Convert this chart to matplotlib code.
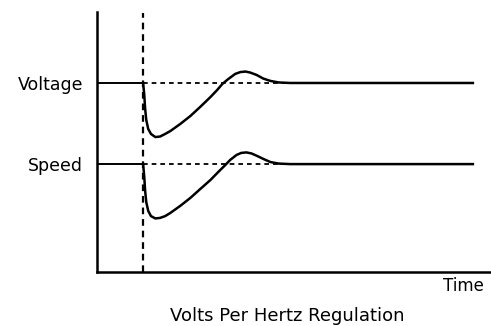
import matplotlib

matplotlib.use("Agg")
import matplotlib.pyplot as plt

# Time axis in arbitrary units; step disturbance applied at t_step
t_step = 1.17
t_end = 9.54

voltage_level = 7.27
speed_level = 4.15

voltage_t = [1.17, 1.20, 1.22, 1.25, 1.30, 1.37, 1.48, 1.60, 1.73, 1.86, 2.11, 2.37,
             2.62, 2.88, 3.05, 3.18, 3.33, 3.51, 3.64, 3.77, 3.89, 4.05, 4.22, 4.40,
             4.61, 4.91, 9.54]
voltage_y = [7.27, 6.81, 6.31, 5.85, 5.50, 5.31, 5.19, 5.21, 5.31, 5.42, 5.69, 6.00,
             6.35, 6.73, 7.00, 7.23, 7.42, 7.62, 7.69, 7.71, 7.67, 7.58, 7.44, 7.35,
             7.29, 7.27, 7.27]

speed_t = [1.17, 1.20, 1.22, 1.25, 1.30, 1.37, 1.48, 1.60, 1.73, 1.86, 2.11, 2.37,
           2.62, 2.88, 3.08, 3.26, 3.38, 3.54, 3.66, 3.79, 3.92, 4.07, 4.22, 4.40,
           4.61, 4.91, 9.54]
speed_y = [4.15, 3.65, 3.15, 2.69, 2.35, 2.15, 2.06, 2.08, 2.15, 2.27, 2.54, 2.85,
           3.19, 3.54, 3.85, 4.12, 4.31, 4.50, 4.58, 4.60, 4.56, 4.46, 4.35, 4.23,
           4.17, 4.15, 4.15]

level_labels = ["Speed", "Voltage"]
level_values = [speed_level, voltage_level]

plt.rcParams["font.family"] = ["DejaVu Sans"]

fig = plt.figure(figsize=(4.91, 3.26), dpi=100)
ax = fig.add_axes([97 / 491, 54 / 326, 394 / 491, 260 / 326])
ax.set_xlim(0, 10)
ax.set_ylim(0, 10)

dash = (0, (2.6, 2.2))
for level in level_values:
    ax.plot([0, t_step], [level, level], color="black", lw=1.4, solid_capstyle="butt")
    ax.plot([t_step, t_end], [level, level], color="black", lw=1.3, linestyle=dash)

ax.plot(voltage_t, voltage_y, color="black", lw=1.8, solid_joinstyle="round")
ax.plot(speed_t, speed_y, color="black", lw=1.8, solid_joinstyle="round")

ax.plot([t_step, t_step], [0, 9.96], color="black", lw=1.6, linestyle=(0, (3, 2.2)))

for side in ("top", "right"):
    ax.spines[side].set_visible(False)
ax.spines["left"].set_linewidth(1.8)
ax.spines["bottom"].set_linewidth(1.8)

ax.set_xticks([])
ax.set_yticks(level_values)
ax.set_yticklabels(level_labels, fontsize=12.5)
ax.tick_params(axis="y", length=0, pad=10)

fig.text(484 / 491, 1 - 291 / 326, "Time", ha="right", va="baseline", fontsize=12)
fig.text(287 / 491, 1 - 321 / 326, "Volts Per Hertz Regulation",
         ha="center", va="baseline", fontsize=13)

fig.savefig("out.png", dpi=100)
